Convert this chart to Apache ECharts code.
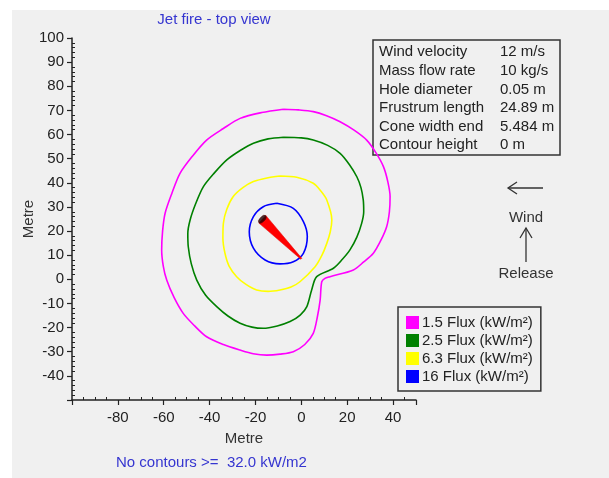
<!DOCTYPE html>
<html>
<head>
<meta charset="utf-8">
<script src="https://cdn.jsdelivr.net/npm/echarts@6/dist/echarts.min.js"></script>
<style>
html,body{margin:0;padding:0;background:#fff;width:609px;height:478px;overflow:hidden;}
#bg{position:absolute;left:12px;top:10px;right:0;bottom:0;background:#f0f0f0;}
#chart{position:absolute;left:0;top:0;width:609px;height:478px;}
</style>
</head>
<body>
<div id="bg"></div>
<div id="chart"></div>
<script>
// ---- data (metres, top view) ----
const seriesNames = ['1.5 Flux (kW/m²)', '2.5 Flux (kW/m²)', '6.3 Flux (kW/m²)', '16 Flux (kW/m²)'];
const seriesColors = ['#ff00ff', '#008000', '#ffff00', '#0000ff'];
const flux15 = [[-7.8,70.5],[-1.3,70.2],[5.2,69.5],[11,67.8],[16.9,65.3],[23,61.8],[28.5,57.7],[32.5,52.5],[35.8,46.7],[37.7,40.5],[38.7,34.3],[38.4,28],[37.2,21.8],[34.6,16],[31.4,10.8],[27.2,7.2],[22.7,3.9],[12.5,1.1],[10.3,0.4],[8.9,-1],[8.2,-8.6],[7,-15.5],[5.2,-22.4],[1.5,-27],[-3.5,-30],[-9.3,-31],[-15.1,-31.4],[-21,-30.8],[-26.7,-29.3],[-34,-27],[-41.3,-23.8],[-46.5,-19.3],[-51.5,-14.1],[-55.5,-7.5],[-58.7,-0.3],[-60.2,5.5],[-60.9,12.2],[-60.5,20],[-59.4,27.4],[-56.5,35.5],[-52.9,43.9],[-47.5,51],[-41.3,57.7],[-34,62.5],[-26.7,66.7],[-17.3,69.1],[-7.8,70.5]];
const flux25 = [[-7.8,58.9],[0,58.6],[5.2,57.7],[11.5,55.5],[16.9,52.2],[21,47.5],[24.2,42.5],[26,38],[27,32.9],[27.2,28],[26.3,23.2],[24.2,17.5],[21.2,12.2],[17.8,8.2],[14,4.6],[6.7,1.1],[4.5,-4.4],[2.4,-11.3],[-0.5,-14.8],[-4.9,-17.5],[-10.5,-19.3],[-16.6,-20.3],[-21.5,-19.8],[-26.7,-18.2],[-32,-15.2],[-36.9,-11.3],[-41.8,-6.5],[-45.6,-0.3],[-48,6.5],[-49.3,13.5],[-49.5,19],[-48.5,24.6],[-46,31.5],[-42.7,38.4],[-38,44],[-32.5,49.5],[-26.5,53.5],[-20.9,56.4],[-14.5,58.2],[-7.8,58.9]];
const flux63 = [[-9.3,42.8],[-2,42.3],[5.2,39.8],[8.5,36.6],[11.1,32.9],[13.3,24.6],[12.6,19.6],[11.1,14.9],[9,10],[6,5.2],[-0.6,-1],[-4.5,-3.2],[-9.3,-4.4],[-14.5,-5],[-19.5,-4.4],[-24.3,-2],[-28.2,1.1],[-31.5,5.5],[-33.3,10.8],[-34.2,17],[-34,23.2],[-32.5,29],[-29.7,34.3],[-25.5,38],[-20.9,40.5],[-15,42],[-9.3,42.8]];
const flux16 = [[-10.7,31.5],[-3.5,29.4],[0.9,23.9],[2.6,17.7],[0.9,10.8],[-3.5,7.3],[-9.3,6.4],[-15.8,8],[-20.9,12.9],[-22.7,19.7],[-20.9,26],[-16.6,30.1],[-10.7,31.5]];
const conePts = [[0.2,8.7],[-15.5,26.5],[-18.5,23.3],[-0.2,8.3]];
const coneEnd = [[-17,24.9]];
const xTicks = {min:-100, max:50, interval:20};
const yTicks = {min:-50, max:100, interval:10};
const infoLabels = ['Wind velocity','Mass flow rate','Hole diameter','Frustrum length','Cone width end','Contour height'];
const infoValues = ['12 m/s','10 kg/s','0.05 m','24.89 m','5.484 m','0 m'];

const FONT = '"Liberation Sans", Arial, sans-serif';
const chart = echarts.init(document.getElementById('chart'), null, {renderer:'canvas'});

const contourData = [flux15, flux25, flux63, flux16];
const series = contourData.map((d, i) => ({
  name: seriesNames[i], type:'line', data:d, color:seriesColors[i],
  showSymbol:false, symbol:'none', smooth:0.3, z:3,
  lineStyle:{width:1.6, color:seriesColors[i]}
}));
series.push({
  type:'custom', name:'cone', data:conePts, z:5,
  renderItem:(params, api) => {
    if (params.dataIndex !== 0) return null;
    return {type:'polygon', shape:{points:conePts.map(p => api.coord(p))}, style:{fill:'#ff0000', stroke:'#e00000', lineWidth:0.5}};
  }
});
series.push({
  type:'scatter', name:'coneEnd', data:coneEnd, z:6,
  symbol:'circle', symbolSize:[10,5], symbolRotate:46,
  itemStyle:{color:'#1a0000', borderColor:'#600', borderWidth:0.5}
});

const graphics = [
  {type:'text', x:214, y:20, style:{text:'Jet fire - top view', font:'15px '+FONT, fill:'#3535d0', textAlign:'center', textVerticalAlign:'middle'}},
  {type:'text', x:116, y:463, style:{text:'No contours >=  32.0 kW/m2', font:'15px '+FONT, fill:'#3535d0', textAlign:'left', textVerticalAlign:'middle'}},
  {type:'rect', shape:{x:373, y:40, width:187, height:115}, style:{fill:'none', stroke:'#333', lineWidth:1.5}},
  // wind arrow
  {type:'polyline', shape:{points:[[543,188],[508,188]]}, style:{stroke:'#333', lineWidth:1.3, fill:null}},
  {type:'polyline', shape:{points:[[517,182],[508,188],[517,194]]}, style:{stroke:'#333', lineWidth:1.3, fill:null}},
  {type:'text', x:526, y:218, style:{text:'Wind', font:'15px '+FONT, fill:'#333', textAlign:'center', textVerticalAlign:'middle'}},
  // release arrow
  {type:'polyline', shape:{points:[[526,262],[526,228]]}, style:{stroke:'#333', lineWidth:1.3, fill:null}},
  {type:'polyline', shape:{points:[[520,238],[526,228],[532,238]]}, style:{stroke:'#333', lineWidth:1.3, fill:null}},
  {type:'text', x:526, y:274, style:{text:'Release', font:'15px '+FONT, fill:'#333', textAlign:'center', textVerticalAlign:'middle'}}
];
const rowY = [52, 71, 89.5, 108, 126.5, 145];
infoLabels.forEach((t, i) => {
  graphics.push({type:'text', x:379, y:rowY[i], style:{text:t, font:'15px '+FONT, fill:'#222', textAlign:'left', textVerticalAlign:'middle'}});
  graphics.push({type:'text', x:500, y:rowY[i], style:{text:infoValues[i], font:'15px '+FONT, fill:'#222', textAlign:'left', textVerticalAlign:'middle'}});
});

const axisCommon = {
  type:'value', nameLocation:'middle', nameMoveOverlap:false,
  nameTextStyle:{fontFamily:FONT, fontSize:15, color:'#333'},
  axisLine:{show:true, onZero:false, lineStyle:{color:'#222', width:1.5}},
  axisTick:{show:true, inside:false, length:5, lineStyle:{color:'#222', width:1.2}},
  minorTick:{show:true, length:-3, lineStyle:{color:'#222', width:1}},
  splitLine:{show:false},
  axisLabel:{fontFamily:FONT, fontSize:15, color:'#222', showMinLabel:false, showMaxLabel:false}
};

chart.setOption({
  animation:false,
  backgroundColor:'transparent',
  grid:{left:72, top:38, width:344, height:362, containLabel:false},
  xAxis: Object.assign({}, axisCommon, {
    min:xTicks.min, max:xTicks.max, interval:xTicks.interval, name:'Metre', nameGap:31,
    minorTick:Object.assign({}, axisCommon.minorTick, {splitNumber:4}),
    axisLabel:Object.assign({}, axisCommon.axisLabel, {margin:10})
  }),
  yAxis: Object.assign({}, axisCommon, {
    min:yTicks.min, max:yTicks.max, interval:yTicks.interval, name:'Metre', nameGap:36,
    minorTick:Object.assign({}, axisCommon.minorTick, {splitNumber:5}),
    axisLabel:Object.assign({}, axisCommon.axisLabel, {margin:8, showMaxLabel:true})
  }),
  legend:{
    data:seriesNames, left:398, top:307, orient:'vertical',
    icon:'rect', itemWidth:13, itemHeight:13, itemGap:3,
    padding:[8,8,7,8], borderColor:'#333', borderWidth:1.5, borderRadius:0,
    backgroundColor:'transparent',
    textStyle:{fontFamily:FONT, fontSize:15, color:'#222', padding:[0,0,0,-2]},
    selectedMode:false
  },
  graphic:graphics,
  series:series
});
</script>
</body>
</html>
